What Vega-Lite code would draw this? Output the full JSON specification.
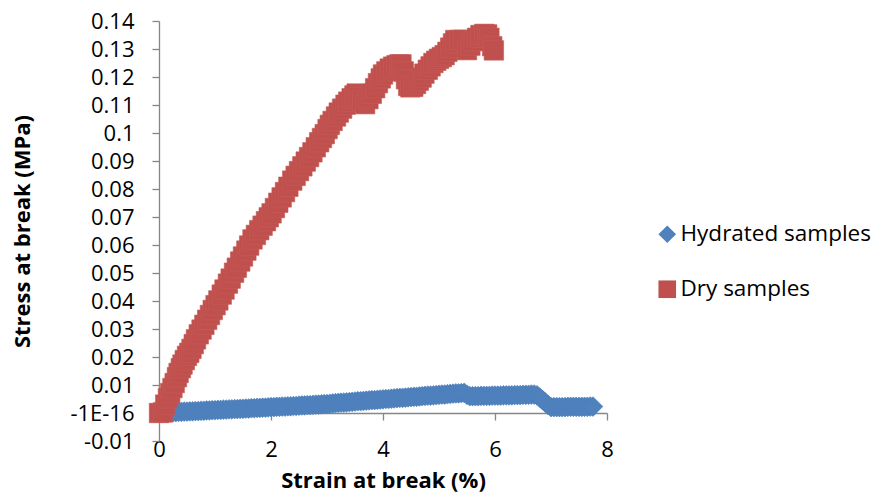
{
  "$schema": "https://vega.github.io/schema/vega-lite/v6.json",
  "width": 448,
  "height": 420,
  "autosize": {"type": "none"},
  "padding": {"left": 159, "top": 21, "right": 268, "bottom": 55},
  "background": "white",
  "config": {"view": {"stroke": null}, "font": "Open Sans"},
  "datasets": {
    "hydrated": [
      {"x":0.10,"y":0.0001},{"x":0.15,"y":0.0001},{"x":0.20,"y":0.0002},{"x":0.25,"y":0.0003},{"x":0.30,"y":0.0003},
      {"x":0.35,"y":0.0004},{"x":0.40,"y":0.0004},{"x":0.45,"y":0.0005},{"x":0.50,"y":0.0005},{"x":0.55,"y":0.0006},
      {"x":0.60,"y":0.0006},{"x":0.65,"y":0.0007},{"x":0.70,"y":0.0007},{"x":0.75,"y":0.0008},{"x":0.80,"y":0.0008},
      {"x":0.85,"y":0.0009},{"x":0.90,"y":0.0009},{"x":0.95,"y":0.0010},{"x":1.00,"y":0.0010},{"x":1.05,"y":0.0011},
      {"x":1.10,"y":0.0011},{"x":1.15,"y":0.0012},{"x":1.20,"y":0.0012},{"x":1.25,"y":0.0013},{"x":1.30,"y":0.0013},
      {"x":1.35,"y":0.0014},{"x":1.40,"y":0.0014},{"x":1.45,"y":0.0015},{"x":1.50,"y":0.0015},{"x":1.55,"y":0.0016},
      {"x":1.60,"y":0.0016},{"x":1.65,"y":0.0017},{"x":1.70,"y":0.0017},{"x":1.75,"y":0.0018},{"x":1.80,"y":0.0018},
      {"x":1.85,"y":0.0019},{"x":1.90,"y":0.0019},{"x":1.95,"y":0.0020},{"x":2.00,"y":0.0021},{"x":2.05,"y":0.0021},
      {"x":2.10,"y":0.0022},{"x":2.15,"y":0.0022},{"x":2.20,"y":0.0023},{"x":2.25,"y":0.0023},{"x":2.30,"y":0.0024},
      {"x":2.35,"y":0.0024},{"x":2.40,"y":0.0025},{"x":2.45,"y":0.0025},{"x":2.50,"y":0.0026},{"x":2.55,"y":0.0027},
      {"x":2.60,"y":0.0027},{"x":2.65,"y":0.0028},{"x":2.70,"y":0.0028},{"x":2.75,"y":0.0029},{"x":2.80,"y":0.0030},
      {"x":2.85,"y":0.0030},{"x":2.90,"y":0.0031},{"x":2.95,"y":0.0032},{"x":3.00,"y":0.0032},{"x":3.05,"y":0.0033},
      {"x":3.10,"y":0.0034},{"x":3.15,"y":0.0035},{"x":3.20,"y":0.0036},{"x":3.25,"y":0.0037},{"x":3.30,"y":0.0037},
      {"x":3.35,"y":0.0038},{"x":3.40,"y":0.0039},{"x":3.45,"y":0.0040},{"x":3.50,"y":0.0041},{"x":3.55,"y":0.0042},
      {"x":3.60,"y":0.0042},{"x":3.65,"y":0.0043},{"x":3.70,"y":0.0044},{"x":3.75,"y":0.0045},{"x":3.80,"y":0.0046},
      {"x":3.85,"y":0.0046},{"x":3.90,"y":0.0047},{"x":3.95,"y":0.0048},{"x":4.00,"y":0.0049},{"x":4.05,"y":0.0050},
      {"x":4.10,"y":0.0050},{"x":4.15,"y":0.0051},{"x":4.20,"y":0.0052},{"x":4.25,"y":0.0053},{"x":4.30,"y":0.0054},
      {"x":4.35,"y":0.0054},{"x":4.40,"y":0.0055},{"x":4.45,"y":0.0056},{"x":4.50,"y":0.0057},{"x":4.55,"y":0.0058},
      {"x":4.60,"y":0.0058},{"x":4.65,"y":0.0059},{"x":4.70,"y":0.0060},{"x":4.75,"y":0.0061},{"x":4.80,"y":0.0062},
      {"x":4.85,"y":0.0062},{"x":4.90,"y":0.0063},{"x":4.95,"y":0.0064},{"x":5.00,"y":0.0065},{"x":5.05,"y":0.0066},
      {"x":5.10,"y":0.0066},{"x":5.15,"y":0.0067},{"x":5.20,"y":0.0068},{"x":5.25,"y":0.0069},{"x":5.30,"y":0.0070},
      {"x":5.35,"y":0.0070},{"x":5.40,"y":0.0071},{"x":5.45,"y":0.0072},{"x":5.50,"y":0.0065},{"x":5.55,"y":0.0060},
      {"x":5.60,"y":0.0060},{"x":5.65,"y":0.0060},{"x":5.70,"y":0.0060},{"x":5.75,"y":0.0061},{"x":5.80,"y":0.0061},
      {"x":5.85,"y":0.0061},{"x":5.90,"y":0.0061},{"x":5.95,"y":0.0062},{"x":6.00,"y":0.0062},{"x":6.05,"y":0.0062},
      {"x":6.10,"y":0.0062},{"x":6.15,"y":0.0063},{"x":6.20,"y":0.0063},{"x":6.25,"y":0.0063},{"x":6.30,"y":0.0063},
      {"x":6.35,"y":0.0064},{"x":6.40,"y":0.0064},{"x":6.45,"y":0.0064},{"x":6.50,"y":0.0065},{"x":6.55,"y":0.0065},
      {"x":6.60,"y":0.0065},{"x":6.65,"y":0.0066},{"x":6.70,"y":0.0066},{"x":6.75,"y":0.0063},{"x":6.80,"y":0.0055},
      {"x":6.85,"y":0.0046},{"x":6.90,"y":0.0037},{"x":6.95,"y":0.0028},{"x":7.00,"y":0.0021},{"x":7.05,"y":0.0021},
      {"x":7.10,"y":0.0021},{"x":7.15,"y":0.0021},{"x":7.20,"y":0.0021},{"x":7.25,"y":0.0021},{"x":7.30,"y":0.0022},
      {"x":7.35,"y":0.0022},{"x":7.40,"y":0.0022},{"x":7.45,"y":0.0022},{"x":7.50,"y":0.0022},{"x":7.55,"y":0.0022},
      {"x":7.60,"y":0.0022},{"x":7.65,"y":0.0022},{"x":7.70,"y":0.0023},{"x":7.75,"y":0.0023}
    ],
    "dry": [
      {"x":0.00,"y":0.0000},{"x":0.07,"y":0.0002},{"x":0.11,"y":0.0030},{"x":0.16,"y":0.0053},{"x":0.20,"y":0.0071},
      {"x":0.24,"y":0.0089},{"x":0.28,"y":0.0107},{"x":0.32,"y":0.0128},{"x":0.35,"y":0.0143},{"x":0.39,"y":0.0160},
      {"x":0.42,"y":0.0173},{"x":0.46,"y":0.0189},{"x":0.50,"y":0.0204},{"x":0.54,"y":0.0215},{"x":0.58,"y":0.0229},
      {"x":0.62,"y":0.0246},{"x":0.66,"y":0.0263},{"x":0.71,"y":0.0281},{"x":0.76,"y":0.0298},{"x":0.81,"y":0.0315},
      {"x":0.86,"y":0.0333},{"x":0.91,"y":0.0350},{"x":0.96,"y":0.0368},{"x":1.01,"y":0.0385},{"x":1.06,"y":0.0402},
      {"x":1.12,"y":0.0423},{"x":1.17,"y":0.0441},{"x":1.23,"y":0.0462},{"x":1.28,"y":0.0480},{"x":1.34,"y":0.0501},
      {"x":1.39,"y":0.0519},{"x":1.45,"y":0.0541},{"x":1.50,"y":0.0559},{"x":1.56,"y":0.0580},{"x":1.61,"y":0.0598},
      {"x":1.67,"y":0.0620},{"x":1.73,"y":0.0636},{"x":1.79,"y":0.0653},{"x":1.85,"y":0.0669},{"x":1.91,"y":0.0685},
      {"x":1.96,"y":0.0699},{"x":2.01,"y":0.0713},{"x":2.07,"y":0.0732},{"x":2.13,"y":0.0751},{"x":2.19,"y":0.0770},
      {"x":2.25,"y":0.0789},{"x":2.31,"y":0.0808},{"x":2.38,"y":0.0830},{"x":2.44,"y":0.0847},{"x":2.50,"y":0.0864},
      {"x":2.56,"y":0.0881},{"x":2.62,"y":0.0898},{"x":2.68,"y":0.0914},{"x":2.74,"y":0.0931},{"x":2.80,"y":0.0949},
      {"x":2.86,"y":0.0967},{"x":2.91,"y":0.0982},{"x":2.96,"y":0.0996},{"x":3.01,"y":0.1014},{"x":3.05,"y":0.1029},
      {"x":3.10,"y":0.1043},{"x":3.16,"y":0.1059},{"x":3.21,"y":0.1073},{"x":3.27,"y":0.1087},{"x":3.33,"y":0.1101},
      {"x":3.38,"y":0.1112},{"x":3.44,"y":0.1124},{"x":3.49,"y":0.1134},{"x":3.53,"y":0.1141},{"x":3.58,"y":0.1128},
      {"x":3.63,"y":0.1115},{"x":3.68,"y":0.1103},{"x":3.74,"y":0.1121},{"x":3.80,"y":0.1140},{"x":3.86,"y":0.1160},
      {"x":3.91,"y":0.1178},{"x":3.96,"y":0.1195},{"x":4.00,"y":0.1209},{"x":4.06,"y":0.1220},{"x":4.12,"y":0.1230},
      {"x":4.18,"y":0.1237},{"x":4.24,"y":0.1242},{"x":4.29,"y":0.1245},{"x":4.33,"y":0.1245},{"x":4.37,"y":0.1220},
      {"x":4.41,"y":0.1192},{"x":4.45,"y":0.1168},{"x":4.49,"y":0.1163},{"x":4.54,"y":0.1165},{"x":4.59,"y":0.1175},
      {"x":4.64,"y":0.1187},{"x":4.69,"y":0.1198},{"x":4.74,"y":0.1212},{"x":4.80,"y":0.1226},{"x":4.85,"y":0.1238},
      {"x":4.90,"y":0.1250},{"x":4.95,"y":0.1258},{"x":5.00,"y":0.1265},{"x":5.05,"y":0.1271},{"x":5.10,"y":0.1278},
      {"x":5.15,"y":0.1290},{"x":5.20,"y":0.1305},{"x":5.25,"y":0.1320},{"x":5.29,"y":0.1332},{"x":5.36,"y":0.1332},
      {"x":5.43,"y":0.1333},{"x":5.50,"y":0.1296},{"x":5.56,"y":0.1312},{"x":5.62,"y":0.1328},{"x":5.68,"y":0.1340},
      {"x":5.74,"y":0.1350},{"x":5.81,"y":0.1354},{"x":5.86,"y":0.1352},{"x":5.90,"y":0.1340},{"x":5.95,"y":0.1310},
      {"x":5.98,"y":0.1295}
    ]
  },
  "encoding": {
    "x": {
      "field": "x", "type": "quantitative",
      "scale": {"domain": [0, 8], "nice": false, "zero": false},
      "axis": {
        "values": [0, 2, 4, 6, 8], "format": "d", "offset": -28, "grid": false,
        "domainColor": "#868686", "domainWidth": 1.3, "tickColor": "#868686", "tickWidth": 1.3, "tickSize": 7,
        "labelFont": "Open Sans", "labelFontSize": 22, "labelColor": "black", "labelPadding": 19, "labelFlush": false,
        "title": "Strain at break (%)", "titleFont": "Open Sans", "titleFontSize": 22, "titleFontWeight": "bold",
        "titleColor": "black", "titlePadding": 10
      }
    },
    "y": {
      "field": "y", "type": "quantitative",
      "scale": {"domain": [-0.01, 0.14], "nice": false, "zero": false},
      "axis": {
        "values": [-0.01, 0, 0.01, 0.02, 0.03, 0.04, 0.05, 0.06, 0.07, 0.08, 0.09, 0.1, 0.11, 0.12, 0.13, 0.14],
        "labelExpr": "abs(datum.value) < 1e-9 ? '-1E-16' : (datum.value < 0 ? '-0.01' : format(datum.value, '.2~f'))",
        "grid": false, "domainColor": "#868686", "domainWidth": 1.3, "tickColor": "#868686", "tickWidth": 1.3, "tickSize": 7,
        "labelFont": "Open Sans", "labelFontSize": 22, "labelColor": "black", "labelPadding": 18, "labelFlush": false, "labelOverlap": false,
        "title": "Stress at break (MPa)", "titleFont": "Open Sans", "titleFontSize": 22, "titleFontWeight": "bold",
        "titleColor": "black", "titlePadding": 35
      }
    }
  },
  "layer": [
    {
      "data": {"name": "hydrated"},
      "mark": {"type": "point", "filled": true, "opacity": 1, "size": 390, "stroke": "#4A7EBB", "strokeWidth": 0.6},
      "encoding": {
        "color": {
          "datum": "Hydrated samples", "type": "nominal",
          "scale": {"domain": ["Hydrated samples", "Dry samples"], "range": ["#4F81BD", "#C0504D"]},
          "legend": {
            "title": null, "orient": "none", "legendX": 497, "legendY": 202,
            "labelFont": "Open Sans", "labelFontSize": 22.5, "labelColor": "black", "labelOffset": 2, "labelLimit": 0,
            "symbolSize": 310, "rowPadding": 32, "symbolStrokeWidth": 0
          }
        },
        "shape": {
          "datum": "Hydrated samples", "type": "nominal",
          "scale": {"domain": ["Hydrated samples", "Dry samples"], "range": ["diamond", "square"]}
        }
      }
    },
    {
      "data": {"name": "dry"},
      "mark": {"type": "point", "filled": true, "opacity": 1, "size": 380, "stroke": "#C65B58", "strokeWidth": 0.6},
      "encoding": {
        "color": {"datum": "Dry samples", "type": "nominal"},
        "shape": {"datum": "Dry samples", "type": "nominal"}
      }
    }
  ]
}
